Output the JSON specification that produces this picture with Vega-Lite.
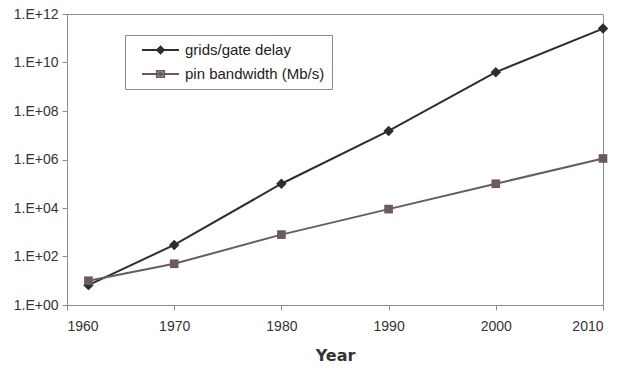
{
  "$schema": "https://vega.github.io/schema/vega-lite/v6.json",
  "autosize": "none",
  "width": 536,
  "height": 291,
  "padding": {"left": 67, "top": 14, "right": 18, "bottom": 65},
  "background": "white",
  "config": {
    "font": "Liberation Sans",
    "view": {"stroke": "#8c8c8c", "strokeWidth": 1},
    "axis": {"grid": false, "domainColor": "#8c8c8c", "tickColor": "#8c8c8c", "labelColor": "#333333", "labelFontSize": 14, "labelFont": "Liberation Sans"}
  },
  "data": {
    "values": [
      {"year": 1962, "series": "grids/gate delay", "value": 6.6},
      {"year": 1970, "series": "grids/gate delay", "value": 300},
      {"year": 1980, "series": "grids/gate delay", "value": 100000},
      {"year": 1990, "series": "grids/gate delay", "value": 15000000},
      {"year": 2000, "series": "grids/gate delay", "value": 4000000000},
      {"year": 2010, "series": "grids/gate delay", "value": 250000000000},
      {"year": 1962, "series": "pin bandwidth (Mb/s)", "value": 10},
      {"year": 1970, "series": "pin bandwidth (Mb/s)", "value": 50},
      {"year": 1980, "series": "pin bandwidth (Mb/s)", "value": 800},
      {"year": 1990, "series": "pin bandwidth (Mb/s)", "value": 9000},
      {"year": 2000, "series": "pin bandwidth (Mb/s)", "value": 100000},
      {"year": 2010, "series": "pin bandwidth (Mb/s)", "value": 1100000}
    ]
  },
  "encoding": {
    "x": {
      "field": "year", "type": "quantitative",
      "scale": {"domain": [1960, 2010], "nice": false, "zero": false},
      "axis": {"values": [1960, 1970, 1980, 1990, 2000, 2010], "format": "d", "tickSize": 5, "labelPadding": 9, "title": "Year", "titleFontSize": 16, "titleFontWeight": "bold", "titleColor": "#333333", "titlePadding": 14, "titleFont": "DejaVu Sans"}
    },
    "y": {
      "field": "value", "type": "quantitative",
      "scale": {"type": "log", "domain": [1, 1000000000000], "nice": false},
      "axis": {"values": [1, 100, 10000, 1000000, 100000000, 10000000000, 1000000000000], "tickSize": 5, "labelPadding": 4, "title": null,
        "labelExpr": "'1.E+' + (round(log(datum.value)/LN10) < 10 ? '0' : '') + round(log(datum.value)/LN10)"}
    }
  },
  "layer": [
    {
      "transform": [{"filter": "datum.series == 'grids/gate delay'"}],
      "mark": {"type": "line", "strokeWidth": 2, "color": "#2e2e2e"}
    },
    {
      "transform": [{"filter": "datum.series == 'pin bandwidth (Mb/s)'"}],
      "mark": {"type": "line", "strokeWidth": 2, "color": "#6b5b5a"}
    },
    {
      "transform": [{"filter": "datum.series == 'grids/gate delay'"}],
      "mark": {"type": "point", "shape": "diamond", "filled": true, "opacity": 1, "size": 110, "color": "#2e2e2e"}
    },
    {
      "transform": [{"filter": "datum.series == 'pin bandwidth (Mb/s)'"}],
      "mark": {"type": "point", "shape": "square", "filled": true, "opacity": 1, "size": 75, "color": "#6b5b5a"}
    },
    {
      "mark": {"type": "point", "filled": true, "opacity": 0, "size": 1},
      "encoding": {
        "color": {"field": "series", "type": "nominal", "title": null,
          "scale": {"domain": ["grids/gate delay", "pin bandwidth (Mb/s)"], "range": ["#2e2e2e", "#6b5b5a"]},
          "legend": {
            "title": null, "orient": "none", "legendX": 58, "legendY": 21,
            "strokeColor": "#8c8c8c", "padding": 7, "fillColor": "white",
            "labelFontSize": 15, "labelColor": "#222222", "labelOffset": 37,
            "symbolSize": 196, "rowPadding": 8, "symbolOpacity": 1, "symbolStrokeWidth": 1.8
          }
        },
        "stroke": {"field": "series", "type": "nominal", "title": null,
          "scale": {"domain": ["grids/gate delay", "pin bandwidth (Mb/s)"], "range": ["#2e2e2e", "#6b5b5a"]}
        },
        "shape": {"field": "series", "type": "nominal", "title": null,
          "scale": {"domain": ["grids/gate delay", "pin bandwidth (Mb/s)"], "range": ["M0.29,0H5.57M2.93,-0.5L3.43,0L2.93,0.5L2.43,0ZM2.93,-0.2L3.13,0L2.93,0.2L2.73,0Z", "M0.29,0H5.57M2.4,-0.45H3.46V0.45H2.4ZM2.75,-0.15H3.1V0.15H2.75Z"]}
        }
      }
    }
  ]
}
